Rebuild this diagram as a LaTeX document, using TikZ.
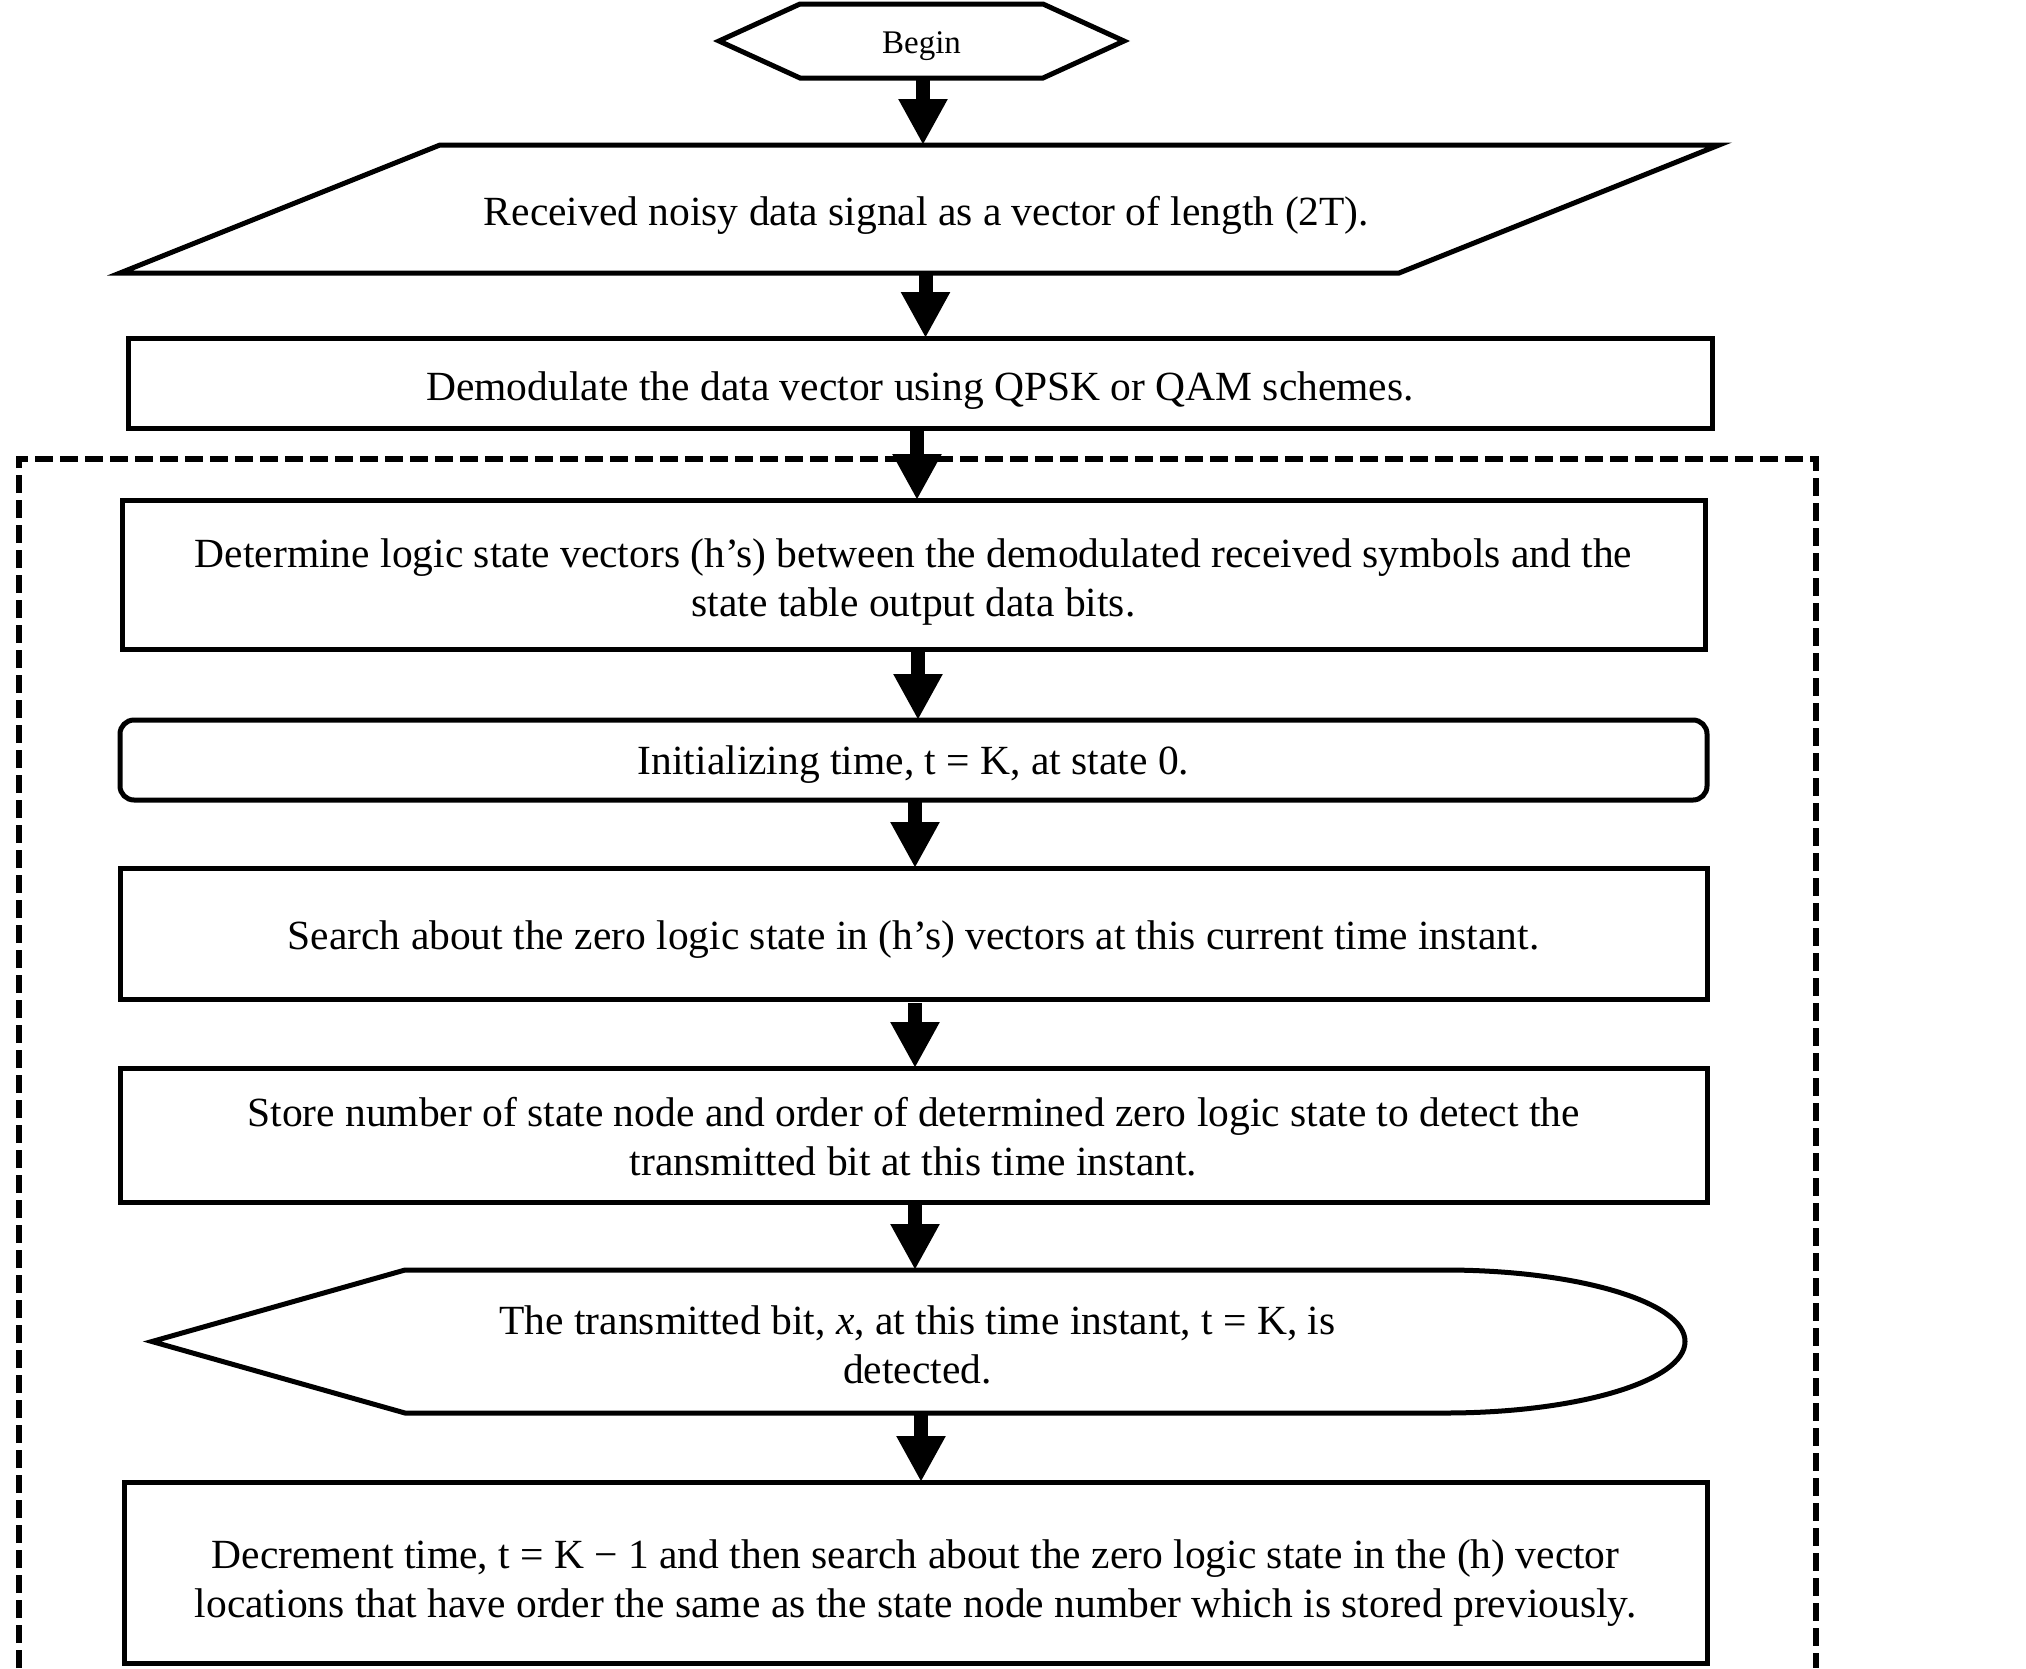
\documentclass[tikz,border=0pt]{standalone}
\usepackage{fontspec}
\setmainfont{Liberation Serif}
\usetikzlibrary{arrows.meta,calc}
\begin{document}
\begin{tikzpicture}[x=1pt,y=-1pt,
  box/.style={draw, line width=5pt, inner sep=0pt, outer sep=0pt},
  lbl/.style={inner sep=0pt, outer sep=0pt, align=center, font=\fontsize{41.5}{49}\selectfont},
  outline/.style={line width=5pt, line join=miter},
  arr/.style={line width=14pt, -{Triangle[width=46pt,length=46pt]}},
  grp/.style={line width=6.5pt, dash pattern=on 18pt off 7pt}]
\useasboundingbox (0,0) rectangle (2026,1668);
\fill[white] (0,0) rectangle (2026,1668);

% dashed group frame (open at the bottom, runs past the picture edge)
\draw[grp] (19,1668) -- (19,459) -- (1816,459) -- (1816,1668);

% Begin
\node[inner sep=0pt, outer sep=0pt, minimum width=405pt, minimum height=74pt] (begin) at (921.5,41) {};
\draw[outline] (begin.west) -- ($(begin.north west)+(81,0)$) -- ($(begin.north east)+(-81,0)$) -- (begin.east) -- ($(begin.south east)+(-81,0)$) -- ($(begin.south west)+(81,0)$) -- cycle;
\node[lbl, font=\fontsize{33}{38}\selectfont] (begin-t) at ([yshift=-5pt]begin.center) {Begin};

% input parallelogram
\node[inner sep=0pt, outer sep=0pt, minimum width=1599pt, minimum height=128pt] (recv) at (919.5,209) {};
\draw[outline] ($(recv.north west)+(320,0)$) -- (recv.north east) -- ($(recv.south east)+(-320,0)$) -- (recv.south west) -- cycle;
\node[lbl] (recv-t) at ([xshift=7pt,yshift=-6pt]recv.center) {Received noisy data signal as a vector of length (2T).};

% process boxes
\node[box, minimum width=1584pt, minimum height=90pt] (demod) at (920,383) {};
\node[lbl] (demod-t) at ([yshift=-8pt]demod.center) {Demodulate the data vector using QPSK  or QAM  schemes.};

\node[box, minimum width=1583pt, minimum height=149pt] (det) at (913.5,574.5) {};
\node[lbl] (det-t) at ([yshift=-8pt]det.center) {Determine logic  state vectors (h’s) between the demodulated received symbols and the\\ state table output data bits.};

\node[box, rounded corners=14pt, minimum width=1587pt, minimum height=80pt] (init) at (913.5,760) {};
\node[lbl] (init-t) at ([yshift=-5pt]init.center) {Initializing time, t = K, at state 0.};

\node[box, minimum width=1587pt, minimum height=131pt] (search) at (913.5,933.5) {};
\node[lbl] (search-t) at ([yshift=-6.5pt]search.center) {Search about the zero logic  state in (h’s)  vectors at this current time instant.};

\node[box, minimum width=1587pt, minimum height=134pt] (store) at (913.5,1135) {};
\node[lbl] (store-t) at ([yshift=-2pt]store.center) {Store number of state node and order of determined zero logic  state to detect the\\ transmitted bit at this time instant.};

% display shape
\node[inner sep=0pt, outer sep=0pt, minimum width=1533pt, minimum height=143pt] (detect) at (918.5,1341.5) {};
\draw[outline] (detect.west) -- ($(detect.north west)+(253,0)$) -- ($(detect.north east)+(-240,0)$) arc[start angle=90, end angle=-90, x radius=240pt, y radius=71.5pt] -- ($(detect.south west)+(253,0)$) -- cycle;
\node[lbl] (detect-t) at ([xshift=-1pt,yshift=-3pt]detect.center) {The transmitted bit, \textit{x},  at this time instant, t = K,  is\\ detected.};

\node[box, minimum width=1583pt, minimum height=181pt] (decr) at (915.5,1572.5) {};
\node[lbl] (decr-t) at ([yshift=-11pt]decr.center) {Decrement time, t = K  −  1 and then search about the zero logic  state in the (h) vector\\ locations that have order the same as the state node number which is stored previously.};

% connectors
\draw[arr] ([xshift=1.5pt]begin.south) -- ([xshift=1.5pt]begin.south |- recv.north);
\draw[arr] ([xshift=6pt]recv.south) -- ([xshift=6pt]recv.south |- demod.north);
\draw[arr] ([xshift=-3pt]demod.south) -- ([xshift=-3pt]demod.south |- det.north);
\draw[arr] ([xshift=4.5pt]det.south) -- ([xshift=4.5pt]det.south |- init.north);
\draw[arr] ([xshift=1.5pt]init.south) -- ([xshift=1.5pt]init.south |- search.north);
\draw[arr] ([xshift=1.5pt,yshift=-4pt]search.south) -- ([xshift=1.5pt]search.south |- store.north);
\draw[arr] ([xshift=1.5pt]store.south) -- ([xshift=1.5pt]store.south |- detect.north);
\draw[arr] ([xshift=2.5pt]detect.south) -- ([xshift=2.5pt]detect.south |- decr.north);
\end{tikzpicture}
\end{document}
